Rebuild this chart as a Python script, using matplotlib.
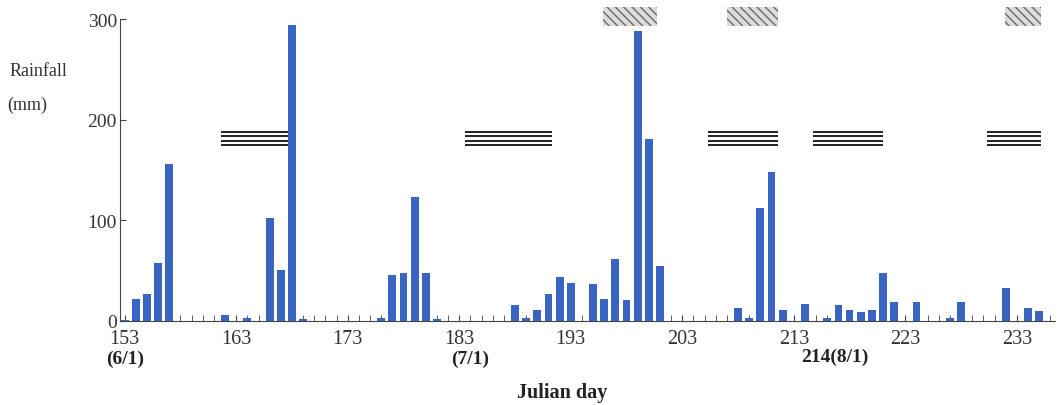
import matplotlib.pyplot as plt
from matplotlib.patches import Rectangle

# daily rainfall (mm), Julian day
days = [153, 154, 155, 156, 157, 162, 164, 166, 167, 168, 169,
        176, 177, 178, 179, 180, 181, 188, 189, 190, 191, 192, 193,
        195, 196, 197, 198, 199, 200, 201, 208, 209, 210, 211, 212,
        214, 216, 217, 218, 219, 220, 221, 222, 224, 227, 228,
        232, 234, 235]
rain = [1, 22, 27, 58, 156, 6, 3, 102, 51, 294, 2,
        3, 46, 48, 123, 48, 2, 16, 3, 11, 27, 44, 38,
        37, 22, 62, 21, 288, 181, 55, 13, 3, 112, 148, 11,
        17, 3, 16, 11, 9, 11, 48, 19, 19, 3, 19,
        33, 13, 10]

# periods drawn as stacked lines and hatched boxes (start, end day)
line_periods = [(161.6, 168.0), (183.5, 191.3), (205.3, 211.6),
                (214.7, 221.0), (230.3, 235.2)]
hatch_periods = [(195.9, 200.7), (207.0, 211.6), (231.9, 235.2)]

xticks = [153, 163, 173, 183, 193, 203, 213, 223, 233]
yticks = [0, 100, 200, 300]

plt.rcParams['font.family'] = ['Liberation Serif', 'DejaVu Serif']
plt.rcParams['hatch.linewidth'] = 1.0

fig = plt.figure(figsize=(10.59, 4.06), dpi=100)
ax = fig.add_axes([0.113, 0.207, 0.883, 0.788])

ax.bar(days, rain, width=0.7, color='#3a64c2', zorder=3)

for x0, x1 in line_periods:
    for yv in [174.5, 179.0, 183.5, 188.0]:
        ax.plot([x0, x1], [yv, yv], color='#222222', lw=1.4,
                solid_capstyle='butt', zorder=2)

for x0, x1 in hatch_periods:
    ax.add_patch(Rectangle((x0, 293), x1 - x0, 19, facecolor='#dcdcdc',
                           edgecolor='#6a6a6a', hatch='\\\\\\\\', lw=0,
                           zorder=2))

ax.set_xlim(152.55, 236.4)
ax.set_ylim(0, 318)
ax.spines['top'].set_visible(False)
ax.spines['right'].set_visible(False)
ax.spines['left'].set_bounds(0, 300)
ax.spines['left'].set_color('#444444')
ax.spines['bottom'].set_color('#444444')

ax.set_yticks(yticks)
ax.set_xticks(xticks)
ax.set_xticks(range(153, 237), minor=True)
ax.tick_params(axis='y', direction='in', length=4, color='#444444',
               labelsize=14, labelcolor='#333333', pad=2)
ax.tick_params(axis='x', which='both', direction='in', length=4,
               color='#444444', labelsize=14.5, labelcolor='#333333', pad=6)

ax.text(153, -37, '(6/1)', ha='center', va='center', fontsize=14,
        fontweight='bold', color='#222222')
ax.text(184, -37, '(7/1)', ha='center', va='center', fontsize=14,
        fontweight='bold', color='#222222')
ax.text(213.7, -35, '214(8/1)', ha='left', va='center', fontsize=14,
        fontweight='bold', color='#222222')

fig.text(0.531, 0.032, 'Julian day', ha='center', va='center',
         fontsize=14.5, fontweight='bold', color='#222222')
fig.text(0.009, 0.823, 'Rainfall', ha='left', va='center', fontsize=13,
         color='#333333')
fig.text(0.007, 0.74, '(mm)', ha='left', va='center', fontsize=13,
         color='#333333')

fig.savefig('out.png', dpi=100)
